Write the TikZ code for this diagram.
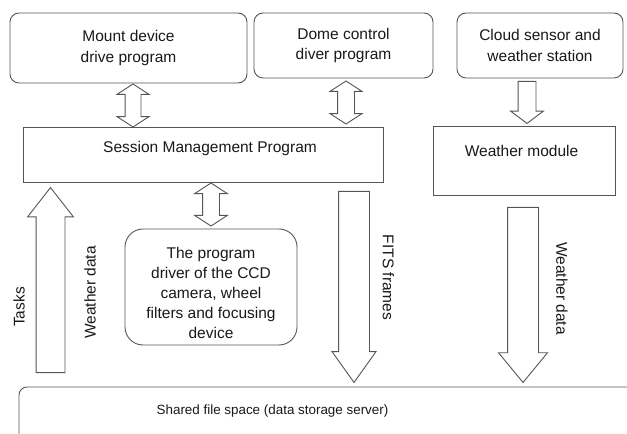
\documentclass[tikz,border=0pt]{standalone}
\usepackage{fontspec}
\setmainfont{Liberation Sans}
\usetikzlibrary{shapes.arrows}
\definecolor{ln}{RGB}{85,85,85}
\definecolor{tx}{RGB}{25,25,25}
\begin{document}
\begin{tikzpicture}[x=1bp,y=-1bp,
  font=\fontsize{15.5bp}{20.5bp}\selectfont,
  box/.style={draw=ln, line width=0.9bp, rounded corners=9bp, align=center, text=tx, inner sep=0pt},
  sqbox/.style={draw=ln, line width=0.9bp, inner sep=0pt},
  txt/.style={text=tx, align=center, inner sep=0pt},
  dbl/.style={double arrow, draw=ln, line width=0.9bp, inner xsep=0pt},
  sgl/.style={single arrow, draw=ln, line width=0.9bp, inner xsep=0pt, anchor=tail}]
\useasboundingbox (0,0) rectangle (627,434);
\fill[white] (0,0) rectangle (627,434);

% boxes
\node[box, minimum width=237bp, minimum height=70bp] (mount) at (128.5,48) {Mount device\\drive program};
\node[box, minimum width=179bp, minimum height=65bp] (dome) at (343.5,45.5) {Dome control\\diver program};
\node[box, minimum width=166bp, minimum height=65bp] (cloud) at (540,45.5) {Cloud sensor and\\weather station};
\node[sqbox, minimum width=360bp, minimum height=55bp] (smp) at (203,154.5) {};
\node[txt] (smpt) at (210,148) {Session Management Program};
\node[sqbox, minimum width=182bp, minimum height=69bp] (wm) at (524,160.5) {};
\node[txt] (wmt) at (521.5,151) {Weather module};
\node[box, rounded corners=18bp, minimum width=172bp, minimum height=116bp] (ccd) at (211,287) {};
\node[txt, font=\fontsize{15.5bp}{19.8bp}\selectfont] (ccdt) at (211,293) {The program\\driver of the CCD\\camera, wheel\\filters and focusing\\device};
\node[box, rounded corners=8bp, minimum width=621bp, minimum height=80bp] (store) at (329.5,427) {};
\node[txt, font=\fontsize{13.4bp}{16bp}\selectfont] (storet) at (272.5,411) {Shared file space (data storage server)};

% block arrows (shaft width = 2 x inner ysep)
\node[dbl, rotate=90, minimum height=43bp, inner ysep=7.5bp, double arrow head extend=8bp, double arrow tip angle=114] (a1) at (133,105.5) {};
\node[dbl, rotate=90, minimum height=43bp, inner ysep=8bp, double arrow head extend=7.5bp, double arrow tip angle=114] (a2) at (346,102.5) {};
\node[sgl, rotate=-90, minimum height=42bp, inner ysep=8.5bp, single arrow head extend=7.5bp, single arrow tip angle=106] (a3) at (527,81) {};
\node[dbl, rotate=90, minimum height=43bp, inner ysep=8bp, double arrow head extend=8bp, double arrow tip angle=114] (a4) at (211,204.5) {};
\node[sgl, rotate=90, minimum height=185bp, inner ysep=14bp, single arrow head extend=8.5bp, single arrow tip angle=76] (tasks) at (50.5,373) {};
\node[sgl, rotate=-90, minimum height=191bp, inner ysep=15bp, single arrow head extend=6.5bp, single arrow tip angle=71] (fits) at (354,191) {};
\node[sgl, rotate=-90, minimum height=175bp, inner ysep=15bp, single arrow head extend=9bp, single arrow tip angle=79] (wd) at (523,207) {};

% labels
\node[txt, rotate=90] (tasksl) at (19,307) {Tasks};
\node[txt, rotate=90] (wdl1) at (90,292.5) {Weather data};
\node[txt, rotate=-90] (fitsl) at (388.5,277.5) {FITS frames};
\node[txt, rotate=-90] (wdl2) at (562,288.5) {Weather data};
\end{tikzpicture}
\end{document}
